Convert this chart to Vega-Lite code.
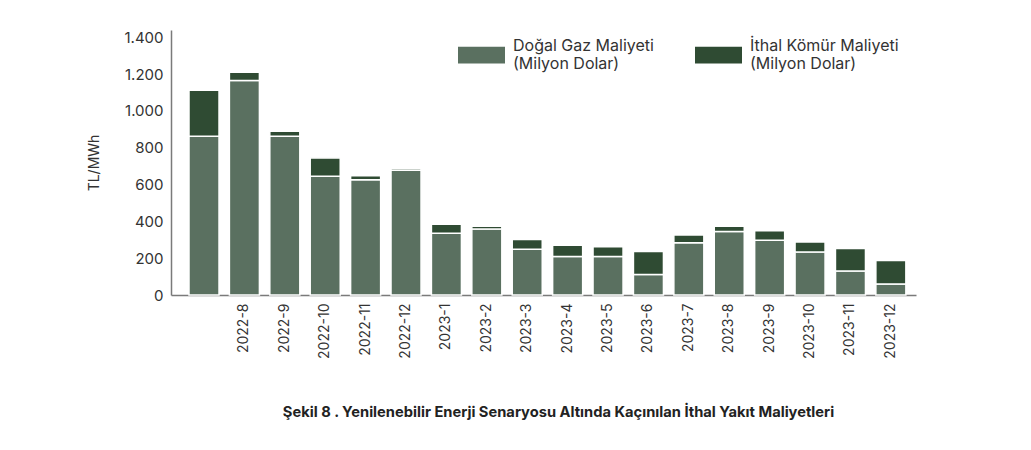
{
  "$schema": "https://vega.github.io/schema/vega-lite/v6.json",
  "autosize": "none",
  "width": 745,
  "height": 265,
  "padding": {"left": 171, "top": 30, "right": 115, "bottom": 155},
  "background": "white",
  "title": {
    "text": "Şekil 8 . Yenilenebilir Enerji Senaryosu Altında Kaçınılan İthal Yakıt Maliyetleri",
    "orient": "bottom",
    "anchor": "middle",
    "frame": "group",
    "dx": 15,
    "offset": 46,
    "font": "Inter",
    "fontSize": 14.7,
    "fontWeight": "bold",
    "color": "#222222"
  },
  "config": {
    "view": {"stroke": null},
    "font": "Inter",
    "axis": {
      "labelFont": "Inter",
      "titleFont": "Inter",
      "labelColor": "#333333",
      "titleColor": "#333333",
      "domainColor": "#7a7a7a",
      "domainWidth": 1.5,
      "ticks": false,
      "grid": false
    }
  },
  "data": {
    "values": [
      {"ay": "2022-7", "seri": "Doğal Gaz Maliyeti|(Milyon Dolar)", "deger": 862, "sira": 1},
      {"ay": "2022-7", "seri": "İthal Kömür Maliyeti|(Milyon Dolar)", "deger": 250, "sira": 2},
      {"ay": "2022-8", "seri": "Doğal Gaz Maliyeti|(Milyon Dolar)", "deger": 1165, "sira": 1},
      {"ay": "2022-8", "seri": "İthal Kömür Maliyeti|(Milyon Dolar)", "deger": 45, "sira": 2},
      {"ay": "2022-9", "seri": "Doğal Gaz Maliyeti|(Milyon Dolar)", "deger": 862, "sira": 1},
      {"ay": "2022-9", "seri": "İthal Kömür Maliyeti|(Milyon Dolar)", "deger": 28, "sira": 2},
      {"ay": "2022-10", "seri": "Doğal Gaz Maliyeti|(Milyon Dolar)", "deger": 645, "sira": 1},
      {"ay": "2022-10", "seri": "İthal Kömür Maliyeti|(Milyon Dolar)", "deger": 100, "sira": 2},
      {"ay": "2022-11", "seri": "Doğal Gaz Maliyeti|(Milyon Dolar)", "deger": 626, "sira": 1},
      {"ay": "2022-11", "seri": "İthal Kömür Maliyeti|(Milyon Dolar)", "deger": 22, "sira": 2},
      {"ay": "2022-12", "seri": "Doğal Gaz Maliyeti|(Milyon Dolar)", "deger": 678, "sira": 1},
      {"ay": "2022-12", "seri": "İthal Kömür Maliyeti|(Milyon Dolar)", "deger": 10, "sira": 2},
      {"ay": "2023-1", "seri": "Doğal Gaz Maliyeti|(Milyon Dolar)", "deger": 336, "sira": 1},
      {"ay": "2023-1", "seri": "İthal Kömür Maliyeti|(Milyon Dolar)", "deger": 48, "sira": 2},
      {"ay": "2023-2", "seri": "Doğal Gaz Maliyeti|(Milyon Dolar)", "deger": 358, "sira": 1},
      {"ay": "2023-2", "seri": "İthal Kömür Maliyeti|(Milyon Dolar)", "deger": 16, "sira": 2},
      {"ay": "2023-3", "seri": "Doğal Gaz Maliyeti|(Milyon Dolar)", "deger": 249, "sira": 1},
      {"ay": "2023-3", "seri": "İthal Kömür Maliyeti|(Milyon Dolar)", "deger": 53, "sira": 2},
      {"ay": "2023-4", "seri": "Doğal Gaz Maliyeti|(Milyon Dolar)", "deger": 209, "sira": 1},
      {"ay": "2023-4", "seri": "İthal Kömür Maliyeti|(Milyon Dolar)", "deger": 61, "sira": 2},
      {"ay": "2023-5", "seri": "Doğal Gaz Maliyeti|(Milyon Dolar)", "deger": 209, "sira": 1},
      {"ay": "2023-5", "seri": "İthal Kömür Maliyeti|(Milyon Dolar)", "deger": 53, "sira": 2},
      {"ay": "2023-6", "seri": "Doğal Gaz Maliyeti|(Milyon Dolar)", "deger": 111, "sira": 1},
      {"ay": "2023-6", "seri": "İthal Kömür Maliyeti|(Milyon Dolar)", "deger": 126, "sira": 2},
      {"ay": "2023-7", "seri": "Doğal Gaz Maliyeti|(Milyon Dolar)", "deger": 284, "sira": 1},
      {"ay": "2023-7", "seri": "İthal Kömür Maliyeti|(Milyon Dolar)", "deger": 42, "sira": 2},
      {"ay": "2023-8", "seri": "Doğal Gaz Maliyeti|(Milyon Dolar)", "deger": 345, "sira": 1},
      {"ay": "2023-8", "seri": "İthal Kömür Maliyeti|(Milyon Dolar)", "deger": 29, "sira": 2},
      {"ay": "2023-9", "seri": "Doğal Gaz Maliyeti|(Milyon Dolar)", "deger": 297, "sira": 1},
      {"ay": "2023-9", "seri": "İthal Kömür Maliyeti|(Milyon Dolar)", "deger": 52, "sira": 2},
      {"ay": "2023-10", "seri": "Doğal Gaz Maliyeti|(Milyon Dolar)", "deger": 233, "sira": 1},
      {"ay": "2023-10", "seri": "İthal Kömür Maliyeti|(Milyon Dolar)", "deger": 55, "sira": 2},
      {"ay": "2023-11", "seri": "Doğal Gaz Maliyeti|(Milyon Dolar)", "deger": 130, "sira": 1},
      {"ay": "2023-11", "seri": "İthal Kömür Maliyeti|(Milyon Dolar)", "deger": 123, "sira": 2},
      {"ay": "2023-12", "seri": "Doğal Gaz Maliyeti|(Milyon Dolar)", "deger": 60, "sira": 1},
      {"ay": "2023-12", "seri": "İthal Kömür Maliyeti|(Milyon Dolar)", "deger": 128, "sira": 2}
    ]
  },
  "mark": {"type": "bar", "stroke": "white", "strokeWidth": 1.5},
  "encoding": {
    "x": {
      "field": "ay",
      "type": "ordinal",
      "sort": null,
      "scale": {"paddingInner": 0.257, "paddingOuter": 0.348, "align": 0.64},
      "axis": {
        "title": null,
        "labelAngle": -90,
        "labelFontSize": 14,
        "labelPadding": 8,
        "labelExpr": "datum.label == '2022-7' ? '' : datum.label"
      }
    },
    "y": {
      "field": "deger",
      "type": "quantitative",
      "stack": "zero",
      "scale": {"domain": [0, 1440], "nice": false},
      "axis": {
        "title": "TL/MWh",
        "titleFontSize": 14,
        "titleFontWeight": "normal",
        "titlePadding": 22,
        "labelFontSize": 15,
        "labelPadding": 8,
        "values": [0, 200, 400, 600, 800, 1000, 1200, 1400],
        "labelExpr": "replace(format(datum.value, ','), ',', '.')"
      }
    },
    "color": {
      "field": "seri",
      "type": "nominal",
      "scale": {
        "domain": ["Doğal Gaz Maliyeti|(Milyon Dolar)", "İthal Kömür Maliyeti|(Milyon Dolar)"],
        "range": ["#5a7060", "#2f4b33"]
      },
      "legend": {
        "title": null,
        "orient": "none",
        "legendX": 287,
        "legendY": -8,
        "direction": "horizontal",
        "columns": 2,
        "columnPadding": 41,
        "symbolType": "M-1,0.04H1V0.76H-1Z",
        "symbolSize": 2209,
        "symbolStrokeWidth": 0,
        "symbolOpacity": 1,
        "labelFontSize": 16,
        "labelColor": "#333333",
        "labelOffset": 8,
        "labelLimit": 300,
        "labelExpr": "split(datum.label, '|')",
        "encode": {"labels": {"update": {"lineHeight": {"value": 19}}}}
      }
    },
    "order": {"field": "sira", "type": "quantitative"}
  }
}
